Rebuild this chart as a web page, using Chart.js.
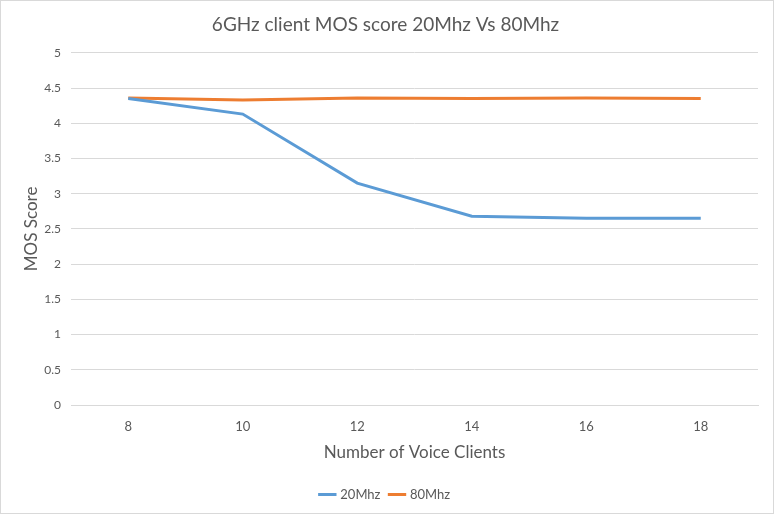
<!DOCTYPE html>
<html><head><meta charset="utf-8">
<script src="https://cdn.jsdelivr.net/npm/chart.js@4"></script>
<style>
html,body{margin:0;padding:0;background:#fff;}
#wrap{position:absolute;left:0;top:0;width:772px;height:512px;border:1px solid #d9d9d9;}
</style></head><body>
<div id="wrap"><canvas id="c" width="772" height="512"></canvas></div>
<script>
const categories = ["8","10","12","14","16","18"];
const mhz20 = [4.35, 4.13, 3.15, 2.68, 2.65, 2.65];
const mhz80 = [4.36, 4.33, 4.36, 4.35, 4.36, 4.35];
const yTicks = [0,0.5,1,1.5,2,2.5,3,3.5,4,4.5,5];
const FONT = "Lato, 'Open Sans', sans-serif";
const TXT = "#595959";
new Chart(document.getElementById('c'), {
  type: 'line',
  data: {
    labels: categories,
    datasets: [
      {label:'20Mhz', data: mhz20, borderColor:'#5B9BD5', backgroundColor:'#5B9BD5', borderWidth:3, pointRadius:0, tension:0},
      {label:'80Mhz', data: mhz80, borderColor:'#ED7D31', backgroundColor:'#ED7D31', borderWidth:3, pointRadius:0, tension:0}
    ]
  },
  options: {
    responsive:false, animation:false,
    layout:{padding:{left:12,right:15,top:8,bottom:2}},
    plugins:{
      title:{display:true,text:'6GHz client MOS score 20Mhz Vs 80Mhz',color:TXT,font:{family:FONT,size:19,weight:'normal'},padding:{top:4,bottom:17}},
      legend:{position:'bottom',labels:{color:TXT,font:{family:FONT,size:13},usePointStyle:true,pointStyle:'line',boxWidth:30,padding:10}},
      tooltip:{enabled:false}
    },
    scales:{
      x:{offset:true,grid:{display:false},border:{color:'#d9d9d9'},
         afterFit:(s)=>{s.height=73;},
         ticks:{color:TXT,font:{family:FONT,size:13},padding:6},
         title:{display:true,text:'Number of Voice Clients',color:TXT,font:{family:FONT,size:17},padding:{top:6,bottom:15}}},
      y:{min:0,max:5,afterBuildTicks:(s)=>{s.ticks=yTicks.map(v=>({value:v}));},
         afterFit:(s)=>{s.width=58;},
         grid:{color:'#d9d9d9',drawTicks:false},border:{display:false},
         ticks:{color:TXT,font:{family:FONT,size:12},padding:10,callback:(v)=>String(v)},
         title:{display:true,text:'MOS Score',color:TXT,font:{family:FONT,size:17},padding:{top:8,bottom:3}}}
    }
  }
});
</script></body></html>
